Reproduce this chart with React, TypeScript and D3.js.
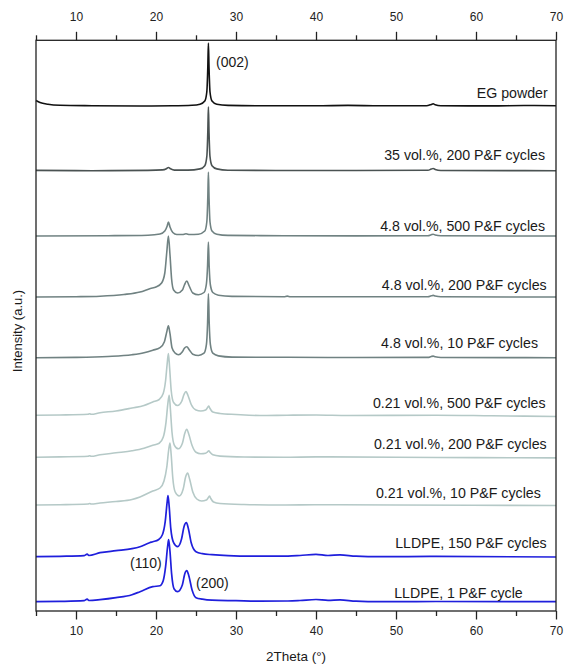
import * as d3 from "d3";
import React, { useRef, useEffect } from "react";

const width = 565;
const height = 666;
const margin = { top: 40.3, right: 9, bottom: 55, left: 36 };

// 2theta (deg), intensity above each trace baseline (a.u.)
const egPowder = [
  [5, 5.5], [5.5, 3.5], [6.5, 1.8], [8, 0.8], [12, 0.3], [18, 0], [22, 0.2], [24.5, 0.7],
  [25.5, 1.8], [26.1, 5], [26.35, 14], [26.48, 40], [26.55, 63], [26.63, 38], [26.75, 14],
  [27, 5], [27.6, 1.8], [29, 0.6], [33, 0.2], [40, 0.2], [44, 0.6], [48, 0.2], [53.8, 0.3],
  [54.4, 1.5], [54.65, 2.2], [54.9, 1.2], [55.6, 0.2], [62, 0.1], [66, 0.5], [70, 0.3],
];
const vol35c200 = [
  [5, 0.3], [12, 0], [19, 0.3], [20.8, 0.8], [21.3, 2], [21.55, 3.2], [21.8, 2], [22.3, 0.6],
  [24, 0.6], [25.5, 1.8], [26.1, 5], [26.35, 14], [26.48, 40], [26.55, 64], [26.63, 38],
  [26.75, 14], [27, 5], [27.6, 1.8], [29, 0.5], [35, 0.2], [45, 0.2], [54, 0.4], [54.4, 1.6],
  [54.65, 2.2], [54.9, 1.3], [55.6, 0.2], [70, 0],
];
const vol48c500 = [
  [5, 0], [14, 0.3], [19, 0.8], [20.5, 2], [21.1, 5], [21.4, 10], [21.55, 14], [21.75, 9],
  [22.1, 3.5], [22.6, 1.5], [23.3, 1.5], [23.75, 2.2], [24.2, 1.5], [25.3, 1.8], [26.1, 5],
  [26.35, 14], [26.48, 40], [26.55, 64], [26.63, 38], [26.75, 14], [27, 5], [27.6, 1.8],
  [29, 0.6], [36, 0.3], [45, 0.1], [54, 0.3], [54.4, 1.3], [54.65, 1.8], [54.9, 1],
  [55.6, 0.2], [70, 0],
];
const vol48c200 = [
  [5, 0], [10, 0.3], [13, 0.8], [16, 2.5], [18, 5], [19.3, 8.5], [20, 10], [20.7, 14],
  [21.1, 24], [21.35, 45], [21.55, 61], [21.75, 42], [21.95, 18], [22.2, 7], [22.7, 4],
  [23.3, 7], [23.55, 12], [23.85, 16], [24.15, 11], [24.6, 4], [25.3, 2.2], [26, 4.5],
  [26.3, 13], [26.45, 32], [26.55, 55], [26.65, 30], [26.8, 12], [27.1, 4.5], [27.8, 1.8],
  [29.5, 0.6], [36, 0.3], [36.4, 0.9], [36.8, 0.3], [45, 0.2], [54, 0.3], [54.4, 1.2],
  [54.65, 1.6], [54.9, 1], [55.6, 0.2], [70, 0],
];
const vol48c10 = [
  [5, 0], [10, 0.3], [14, 1.2], [17, 3], [18.5, 5], [19.6, 7.5], [20.5, 10], [21.05, 16],
  [21.35, 26], [21.55, 32], [21.75, 24], [22, 10], [22.4, 4.5], [22.8, 3], [23.3, 6],
  [23.55, 9.5], [23.85, 11], [24.15, 8], [24.6, 3.5], [25.3, 2.2], [26, 4.5], [26.3, 13],
  [26.45, 35], [26.55, 64], [26.65, 35], [26.8, 13], [27.1, 4.5], [27.8, 1.8], [29.5, 0.6],
  [36.5, 0.4], [45, 0.2], [54, 0.3], [54.4, 1.2], [54.65, 1.6], [54.9, 1], [55.6, 0.2], [70, 0],
];
const vol021c500 = [
  [5, 0.2], [8, 0.5], [11.5, 1.2], [11.7, 1.8], [11.9, 1.2], [13, 2.8], [15, 4.5], [17, 7.5],
  [18.5, 10], [19.6, 13.5], [20.4, 16], [20.9, 22], [21.2, 35], [21.4, 52], [21.55, 62],
  [21.7, 48], [21.9, 25], [22.2, 13], [22.7, 10], [23.2, 14], [23.5, 21], [23.75, 24],
  [24, 20], [24.4, 11], [25, 5.5], [25.6, 4.5], [26.2, 5.5], [26.45, 8], [26.6, 9.5],
  [26.75, 7], [27.1, 3.5], [28, 2], [30, 1], [33, 0], [36.4, 0.3], [40, 0.5], [44, 0],
  [55, 0.3], [62, -0.3], [70, -1],
];
const vol021c200 = [
  [5, 0], [8, 0.4], [11.5, 1], [11.7, 1.6], [11.9, 1], [13, 2.5], [15, 4.5], [17, 6.5],
  [18.5, 9], [19.6, 12], [20.4, 14], [20.9, 20], [21.25, 35], [21.5, 55], [21.65, 62],
  [21.8, 48], [22, 25], [22.3, 12], [22.8, 8.5], [23.3, 14], [23.6, 24], [23.85, 28],
  [24.1, 23], [24.5, 12], [25, 5], [25.6, 3.5], [26.2, 4], [26.45, 5.5], [26.6, 6.6],
  [26.75, 5], [27.1, 2.5], [28, 1.2], [31, 0.3], [36, 0], [40, 0.4], [50, 0], [60, -0.3],
  [70, -0.6],
];
const vol021c10 = [
  [5, 0], [8, 0.3], [11.5, 1], [11.7, 1.5], [11.9, 1], [13, 2], [15, 3.5], [17, 5.5], [18, 8],
  [19.6, 14], [20.5, 17], [21, 24], [21.35, 38], [21.6, 56], [21.75, 62], [21.9, 50],
  [22.1, 27], [22.4, 13], [22.9, 9], [23.4, 16], [23.7, 28], [23.95, 32], [24.2, 26],
  [24.6, 13], [25.1, 6], [25.7, 4], [26.3, 5], [26.55, 7.5], [26.7, 9], [26.85, 6.5],
  [27.2, 3], [28, 1.5], [31, 0.5], [36, 0], [40, 0.3], [50, 0], [70, -0.5],
];
const lldpe150 = [
  [5, 0], [8, 0.4], [11, 1], [11.4, 2.6], [11.6, 1.2], [13, 4], [15, 6], [17, 8], [18, 10],
  [19.2, 14], [19.6, 15], [20.3, 17], [20.8, 22], [21.15, 35], [21.4, 55], [21.5, 61],
  [21.65, 50], [21.85, 28], [22.2, 14], [22.7, 10], [23.2, 18], [23.5, 30], [23.8, 34],
  [24.05, 28], [24.4, 14], [25, 5], [25.8, 3], [27, 2], [29, 1], [32, 0.5], [36.5, 0.6],
  [38, 1.2], [40, 2.3], [41.5, 1.2], [43, 1.8], [45, 0.5], [48, 0], [55, 0.3], [70, -0.3],
];
const lldpe1 = [
  [5, 0], [8, 0.3], [11, 1], [11.4, 2.6], [11.6, 1.2], [13, 2], [15, 4], [17, 7], [18, 10],
  [19.6, 15], [20.5, 16], [20.9, 21], [21.2, 35], [21.45, 55], [21.58, 62], [21.75, 50],
  [21.95, 28], [22.25, 13], [22.7, 10], [23.3, 17], [23.6, 28], [23.85, 31], [24.1, 26],
  [24.5, 12], [25, 4], [25.8, 2.5], [27, 1.5], [30, 1], [33, 0.5], [36.5, 0.7], [38, 1.2],
  [40, 2.2], [41.5, 1.3], [43, 1.8], [45, 0.5], [48, 0], [55, 0.2], [70, 0],
];

const seriesNames = [
  "EG powder",
  "35 vol.%, 200 P&F cycles",
  "4.8 vol.%, 500 P&F cycles",
  "4.8 vol.%, 200 P&F cycles",
  "4.8 vol.%, 10 P&F cycles",
  "0.21 vol.%, 500 P&F cycles",
  "0.21 vol.%, 200 P&F cycles",
  "0.21 vol.%, 10 P&F cycles",
  "LLDPE, 150 P&F cycles",
  "LLDPE, 1 P&F cycle",
];
const seriesData = [
  egPowder, vol35c200, vol48c500, vol48c200, vol48c10,
  vol021c500, vol021c200, vol021c10, lldpe150, lldpe1,
];
// vertical stacking offsets (a.u.)
const offsets = [505, 440.3, 375, 314, 253.3, 195.5, 153.7, 106, 54.3, 9.3];
const colors = [
  "#111111", "#4a5252", "#708282", "#708282", "#708282",
  "#b5c9c7", "#b5c9c7", "#b5c9c7", "#1f1fdc", "#1f1fdc",
];
// label anchor: right end (2theta), height above baseline
const labelAt = [
  [68.96, 13], [68.63, 15.4], [68.63, 10.3], [68.83, 12], [67.75, 14.4],
  [68.7, 12.2], [68.83, 13], [68.1, 11.7], [68.83, 13.4], [65.84, 8.4],
];
const peakLabels = [
  { text: "(002)", x: 27.5, y: 544.5, anchor: "start" },
  { text: "(110)", x: 20.71, y: 43, anchor: "end" },
  { text: "(200)", x: 25, y: 23.5, anchor: "start" },
];

const majorTicks = [10, 20, 30, 40, 50, 60, 70];
const minorTicks = [5, 15, 25, 35, 45, 55, 65];

const font = "'Liberation Sans', Arial, sans-serif";

function Chart() {
  const ref = useRef(null);

  useEffect(() => {
    const svg = d3.select(ref.current);
    svg.selectAll("*").remove();

    const scaleX = d3
      .scaleLinear()
      .domain([5, 70])
      .range([margin.left, width - margin.right]);
    const scaleY = d3
      .scaleLinear()
      .domain([0, height - margin.bottom - margin.top])
      .range([height - margin.bottom, margin.top]);

    // traces, bottom one first so upper traces sit on top
    const plot = svg.append("g");
    seriesData
      .map((d, i) => ({ d, i }))
      .reverse()
      .forEach(({ d, i }) => {
        const line = d3
          .line()
          .curve(d3.curveMonotoneX)
          .x((p: any) => scaleX(p[0]))
          .y((p: any) => scaleY(p[1] + offsets[i]));
        plot
          .append("path")
          .attr("fill", "none")
          .attr("stroke", colors[i])
          .attr("stroke-width", i >= 8 ? 1.7 : 1.6)
          .attr("stroke-linejoin", "round")
          .attr("d", line(d as any));
      });

    // series labels
    seriesNames.forEach((name, i) => {
      svg
        .append("text")
        .attr("x", scaleX(labelAt[i][0]))
        .attr("y", scaleY(offsets[i] + labelAt[i][1]))
        .attr("dy", "0.35em")
        .attr("text-anchor", "end")
        .attr("font-family", font)
        .attr("font-size", 14.2)
        .attr("fill", "#1a1a1a")
        .text(name);
    });

    peakLabels.forEach((p) => {
      svg
        .append("text")
        .attr("x", scaleX(p.x))
        .attr("y", scaleY(p.y))
        .attr("text-anchor", p.anchor)
        .attr("font-family", font)
        .attr("font-size", 14)
        .attr("fill", "#1a1a1a")
        .text(p.text);
    });

    // frame
    svg
      .append("rect")
      .attr("x", margin.left)
      .attr("y", margin.top)
      .attr("width", width - margin.left - margin.right)
      .attr("height", height - margin.top - margin.bottom)
      .attr("fill", "none")
      .attr("stroke", "#222")
      .attr("stroke-width", 1.3);

    function styleAxis(g: any) {
      g.select(".domain").remove();
      g.selectAll("line").attr("stroke", "#222").attr("stroke-width", 1.3);
      g.selectAll("text")
        .attr("font-family", font)
        .attr("font-size", 12)
        .attr("fill", "#222");
    }

    svg
      .append("g")
      .attr("transform", `translate(0,${margin.top})`)
      .call(d3.axisTop(scaleX).tickValues(majorTicks).tickSize(8.5).tickPadding(10.5))
      .call(styleAxis);
    svg
      .append("g")
      .attr("transform", `translate(0,${margin.top})`)
      .call(d3.axisTop(scaleX).tickValues(minorTicks).tickSize(5).tickFormat(() => ""))
      .call(styleAxis);
    svg
      .append("g")
      .attr("transform", `translate(0,${height - margin.bottom})`)
      .call(d3.axisBottom(scaleX).tickValues(majorTicks).tickSize(8.5).tickPadding(7))
      .call(styleAxis);
    svg
      .append("g")
      .attr("transform", `translate(0,${height - margin.bottom})`)
      .call(d3.axisBottom(scaleX).tickValues(minorTicks).tickSize(5).tickFormat(() => ""))
      .call(styleAxis);

    // axis titles
    svg
      .append("text")
      .attr("x", (margin.left + width - margin.right) / 2)
      .attr("y", 661)
      .attr("text-anchor", "middle")
      .attr("font-family", font)
      .attr("font-size", 13.5)
      .attr("fill", "#1a1a1a")
      .text("2Theta (°)");
    svg
      .append("text")
      .attr("transform", `translate(21.5,${331}) rotate(-90)`)
      .attr("text-anchor", "middle")
      .attr("font-family", font)
      .attr("font-size", 13)
      .attr("fill", "#1a1a1a")
      .text("Intensity (a.u.)");
  }, []);

  return (
    <svg
      ref={ref}
      width={width}
      height={height}
      viewBox={`0 0 ${width} ${height}`}
      style={{ position: "absolute", left: 0, top: 0, background: "#fff" }}
    />
  );
}

export default function App() {
  return <Chart />;
}
